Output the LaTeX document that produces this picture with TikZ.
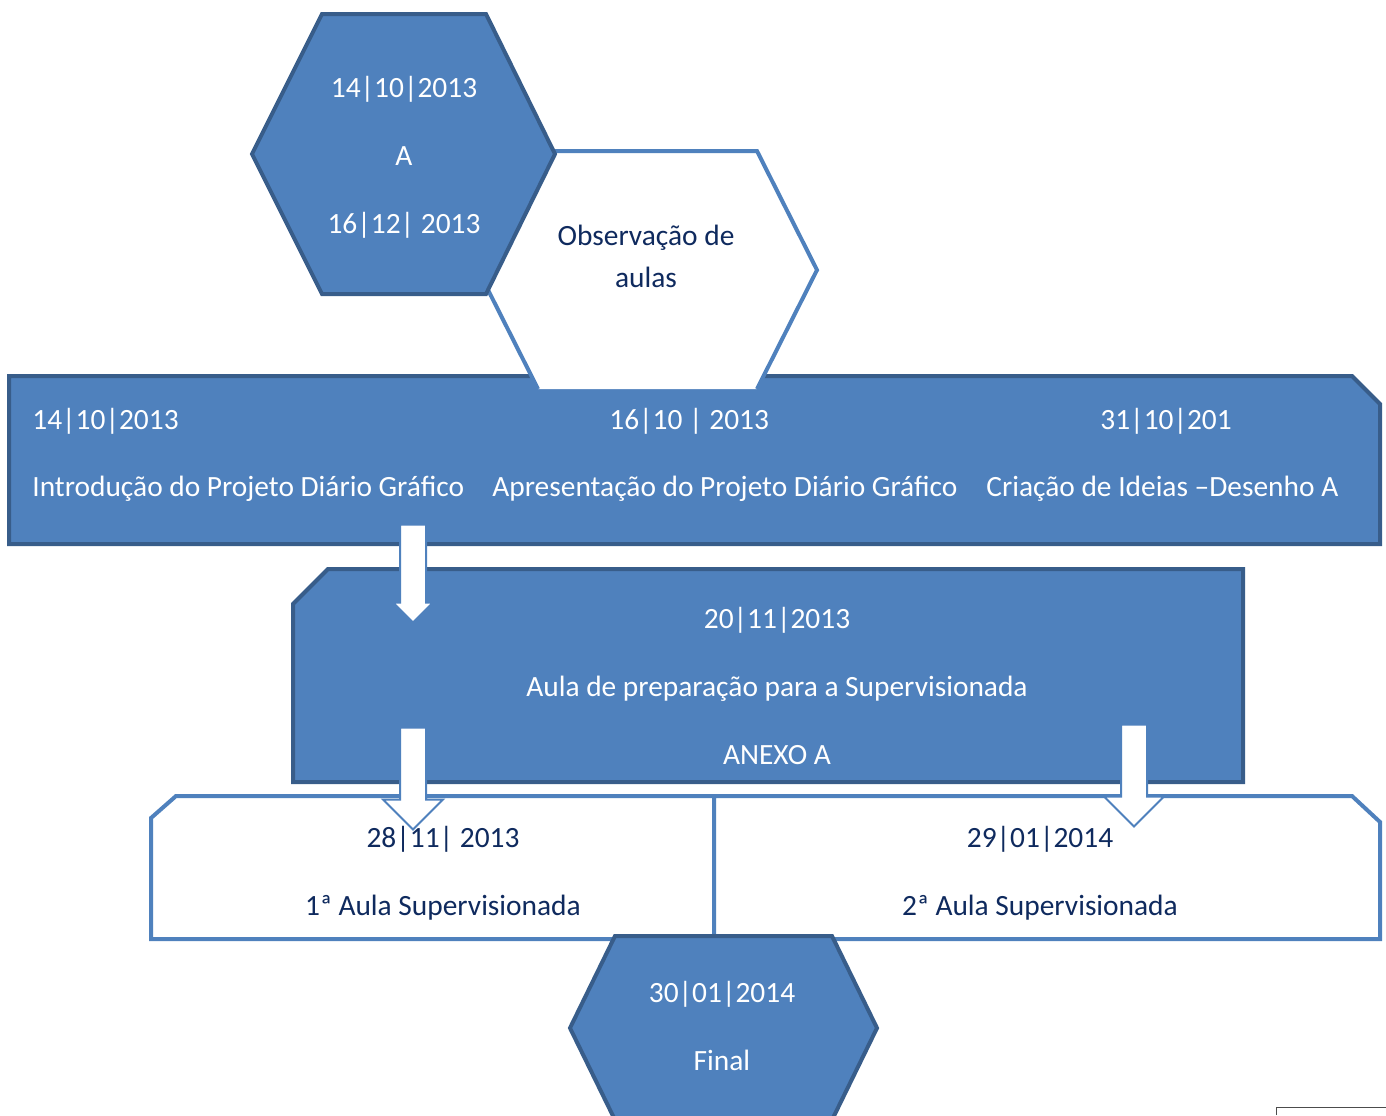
\documentclass[tikz,border=0pt]{standalone}
\usepackage{fontspec}
\setmainfont{Carlito}
\usetikzlibrary{shapes.arrows}
\definecolor{boxblue}{HTML}{4F81BD}
\definecolor{edgeblue}{HTML}{385D8A}
\definecolor{txtnavy}{HTML}{0F2A5E}
\tikzset{
  darkshape/.style={fill=boxblue,draw=edgeblue,line width=2pt},
  lightshape/.style={fill=white,draw=boxblue,line width=2pt},
  lightedge/.style={draw=boxblue,line width=2pt},
  wtext/.style={text=white,font=\fontsize{14.7}{34}\selectfont,align=center,inner sep=0pt},
  ntext/.style={text=txtnavy,font=\fontsize{14.7}{34}\selectfont,align=center,inner sep=0pt},
  downarrow/.style={single arrow,fill=white,draw=boxblue,line width=1pt,
    rotate=-90,inner xsep=0pt,inner ysep=6pt,single arrow tip angle=90,
    single arrow head indent=0pt},
}

\begin{document}
\begin{tikzpicture}[x=0.5pt,y=-0.5pt]
\clip (0,0) rectangle (1386,1115);
% long box with the first three dates
\draw[darkshape] (9,376) -- (1352,376) -- (1380,404) -- (1380,544) -- (9,544) -- cycle;
% observation hexagon, open at the bottom
\fill[white] (478,270) -- (538,151) -- (757,151) -- (817,270) -- (757,389) -- (538,389) -- cycle;
\draw[lightedge] (538,389) -- (478,270) -- (538,151) -- (757,151) -- (817,270) -- (757,389);
\draw[darkshape] (252,154) -- (322,14) -- (486,14) -- (555,154) -- (486,294) -- (322,294) -- cycle;
% preparation box
\draw[darkshape] (328,569) -- (1243,569) -- (1243,782) -- (293,782) -- (293,604) -- cycle;
% the two supervised lessons
\draw[lightshape] (176,796) -- (714,796) -- (714,939) -- (151,939) -- (151,818) -- cycle;
\draw[lightshape] (714,796) -- (1352,796) -- (1380,822) -- (1380,939) -- (714,939) -- cycle;
\draw[darkshape] (570,1028) -- (615,936) -- (832,936) -- (877,1028) -- (832,1120) -- (615,1120) -- cycle;
\draw[line width=0.4pt,black!70] (1276,1115) -- (1276,1107) -- (1386,1107);

\node[wtext] (per) at (404,157) {14|10|2013\\A\\16|12| 2013};
\node[ntext,font=\fontsize{14.7}{21}\selectfont] (obs) at (646,256) {Observação de\\aulas};

\node[wtext,anchor=west] (d1) at (32,421) {14|10|2013};
\node[wtext,anchor=west] (t1) at (32,489) {Introdução do Projeto Diário Gráfico};
\node[wtext,anchor=west] (d2) at (609,421) {16|10 | 2013};
\node[wtext,anchor=west] (t2) at (492,489) {Apresentação do Projeto Diário Gráfico};
\node[wtext,anchor=west] (d3) at (1100,421) {31|10|201};
\node[wtext,anchor=west] (t3) at (986,489) {Criação de Ideias –Desenho A};

\node[wtext] (prep) at (777,686) {20|11|2013\\Aula de preparação para a Supervisionada\\ANEXO A};
\node[ntext] (sup1) at (443,873) {28|11| 2013\\1ª Aula Supervisionada};
\node[ntext] (sup2) at (1040,873) {29|01|2014\\2ª Aula Supervisionada};
\node[wtext] (fim) at (722,1026) {30|01|2014\\Final};

\node[downarrow,minimum height=49pt,single arrow head extend=3.5pt] (arrA) at (413,567) {};
\node[downarrow,minimum height=51pt,single arrow head extend=8.5pt] (arrB) at (413,772) {};
\node[downarrow,minimum height=51pt,single arrow head extend=8.5pt] (arrC) at (1134,769) {};
\end{tikzpicture}
\end{document}
